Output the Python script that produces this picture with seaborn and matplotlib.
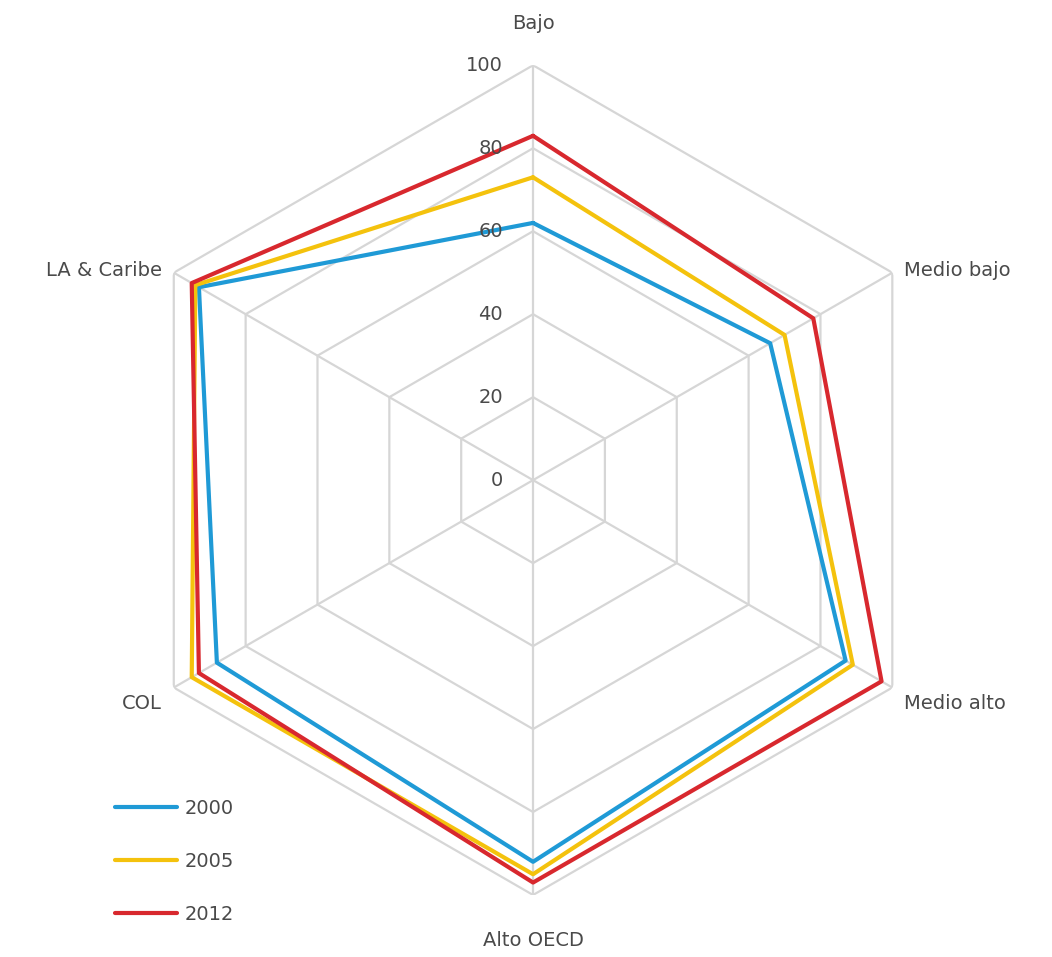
import numpy as np
import pandas as pd
import matplotlib
matplotlib.use("Agg")
import matplotlib.pyplot as plt
import seaborn as sns

# Income groups around the radar, clockwise from the top
categories = ["Bajo", "Medio bajo", "Medio alto", "Alto OECD", "COL", "LA & Caribe"]
years = ["2000", "2005", "2012"]
values_2000 = [62, 66, 87, 92, 88, 93]
values_2005 = [73, 70, 89, 95, 95, 94]
values_2012 = [83, 78, 97, 97, 93, 95]
ring_values = [0, 20, 40, 60, 80, 100]

palette = {"2000": "#1f9ad6", "2005": "#f4c20d", "2012": "#d8282e"}

sns.set_theme(style="white")
plt.rcParams["font.family"] = ["DejaVu Sans"]

n = len(categories)
angles = np.linspace(0, 2 * np.pi, n, endpoint=False)
closed_angles = np.append(angles, angles[0] + 2 * np.pi)

rows = []
for year, vals in zip(years, [values_2000, values_2005, values_2012]):
    for order, (a, v) in enumerate(zip(closed_angles, vals + vals[:1])):
        rows.append({"year": year, "theta": a, "value": v, "order": order})
df = pd.DataFrame(rows)

fig = plt.figure(figsize=(10.52, 9.57), dpi=100)
ax = fig.add_axes([0.1122, 0.0648, 0.789, 0.867], projection="polar")
ax.set_theta_offset(np.pi / 2)
ax.set_theta_direction(-1)
ax.set_ylim(0, 100)
ax.grid(False)
ax.spines["polar"].set_visible(False)
ax.set_xticks([])
ax.set_yticks([])

grid_color = "#d6d6d6"
# hexagonal rings
for r in ring_values[1:]:
    ax.plot(closed_angles, [r] * (n + 1), color=grid_color, lw=1.6, zorder=1)
# spokes
for a in angles:
    ax.plot([a, a], [0, 100], color=grid_color, lw=1.6, zorder=1)

sns.lineplot(data=df, x="theta", y="value", hue="year", palette=palette,
             sort=False, estimator=None, units="year", lw=3.0, ax=ax, zorder=3)
ax.set_xlabel("")
ax.set_ylabel("")

text_color = "#4a4a4a"

# radial value labels along the top spoke
for r in ring_values:
    ax.annotate(str(r), xy=(0, r), xytext=(-30, 0), textcoords="offset pixels",
                ha="right", va="center", fontsize=14, color=text_color)

# category labels outside the outer ring
label_pos = {
    "Bajo": ((0, 32), "center", "bottom"),
    "Medio bajo": ((12, 2), "left", "center"),
    "Medio alto": ((12, -16), "left", "center"),
    "Alto OECD": ((0, -46), "center", "center"),
    "COL": ((-12, -16), "right", "center"),
    "LA & Caribe": ((-12, 2), "right", "center"),
}
for a, cat in zip(angles, categories):
    off, ha, va = label_pos[cat]
    ax.annotate(cat, xy=(a, 100), xytext=off, textcoords="offset pixels",
                ha=ha, va=va, fontsize=14, color=text_color)

handles, labels = ax.get_legend_handles_labels()
ax.legend(handles, labels, loc="upper left", bbox_to_anchor=(0.109, 0.165),
          bbox_transform=fig.transFigure, frameon=False, fontsize=14,
          handlelength=3.2, handletextpad=0.4, labelspacing=1.75,
          borderpad=0, borderaxespad=0, labelcolor=text_color)

fig.savefig("out.png", dpi=100, facecolor="white")
